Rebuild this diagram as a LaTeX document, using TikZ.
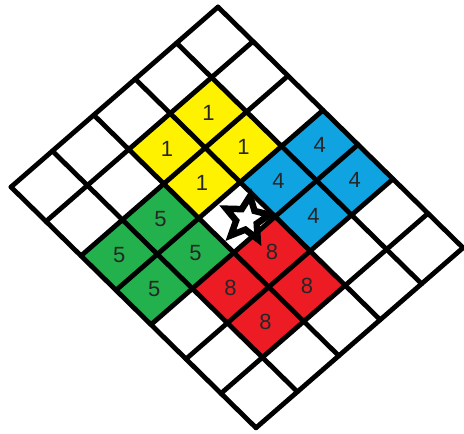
\documentclass[tikz,border=0pt]{standalone}
\usepackage{fontspec}
\setmainfont{Liberation Sans}
\usetikzlibrary{shapes.geometric}
\definecolor{cellyellow}{RGB}{255,242,0}
\definecolor{cellblue}{RGB}{16,163,226}
\definecolor{cellgreen}{RGB}{34,177,76}
\definecolor{cellred}{RGB}{237,28,36}
\begin{document}
\begin{tikzpicture}[
  x=1pt, y=-1pt,
  num/.style={font=\fontsize{22}{22}\selectfont, text=black!85},
  gridline/.style={line width=4.8pt, line cap=round, line join=round},
  mark star/.style={star, star points=5, star point ratio=2.1, draw, fill=white,
    line width=6.5pt, minimum size=46pt, inner sep=0pt, rotate=-8}
]
\useasboundingbox (0,0) rectangle (464,434);
\begin{scope}[shift={(218,7)}, x={(-41.4pt,-36pt)}, y={(35pt,-34.4pt)}]
% coloured cells
\foreach \i/\j/\c in {1/1/cellyellow, 2/1/cellyellow, 1/2/cellyellow, 2/2/cellyellow,
                      0/3/cellblue, 1/3/cellblue, 0/4/cellblue, 1/4/cellblue,
                      3/2/cellgreen, 4/2/cellgreen, 3/3/cellgreen, 4/3/cellgreen,
                      2/4/cellred, 3/4/cellred, 2/5/cellred, 3/5/cellred}
  \fill[\c] (\i,\j) -- ++(1,0) -- ++(0,1) -- ++(-1,0) -- cycle;
% grid
\foreach \i in {0,...,5}
  \draw[gridline] (\i,0) -- (\i,7);
\foreach \j in {0,...,7}
  \draw[gridline] (0,\j) -- (5,\j);
% numbers
\node[num] (y1) at (1.5,1.5) {1};
\node[num] (y2) at (2.5,1.5) {1};
\node[num] (y3) at (1.5,2.5) {1};
\node[num] (y4) at (2.5,2.5) {1};
\node[num] (b1) at (0.5,3.5) {4};
\node[num] (b2) at (1.5,3.5) {4};
\node[num] (b3) at (0.5,4.5) {4};
\node[num] (b4) at (1.5,4.5) {4};
\node[num] (g1) at (3.5,2.5) {5};
\node[num] (g2) at (4.5,2.5) {5};
\node[num] (g3) at (3.5,3.5) {5};
\node[num] (g4) at (4.5,3.5) {5};
\node[num] (r1) at (2.5,4.5) {8};
\node[num] (r2) at (3.5,4.5) {8};
\node[num] (r3) at (2.5,5.5) {8};
\node[num] (r4) at (3.5,5.5) {8};
\node[mark star, xshift=10pt] (centre) at (2.5,3.5) {};
\end{scope}
\end{tikzpicture}
\end{document}
